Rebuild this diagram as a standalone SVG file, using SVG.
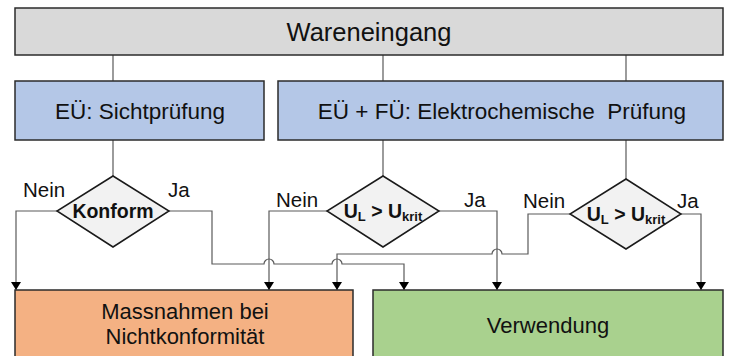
<svg xmlns="http://www.w3.org/2000/svg" width="729" height="356" viewBox="0 0 729 356">
  <style>
    .box { stroke: #2b2b2b; stroke-width: 1.5; }
    .dia { fill: #f2f2f2; stroke: #1a1a1a; stroke-width: 1.5; }
    .lbl { font-family: "Liberation Sans", Arial, sans-serif; fill: #111; text-anchor: middle; }
    .yn { font-family: "Liberation Sans", Arial, sans-serif; fill: #111; font-size: 20.5px; }
    .cond { font-family: "Liberation Sans", Arial, sans-serif; fill: #111; font-weight: bold; font-size: 19.5px; text-anchor: middle; }
    .wire { fill: none; stroke: #5a5a5a; stroke-width: 1.2; }
    .arr { fill: none; stroke: #5a5a5a; stroke-width: 1.2; marker-end: url(#head); }
  </style>
  <defs>
    <!-- arrowhead drawn along +x; orient="auto" turns it to the line direction -->
    <marker id="head" markerUnits="userSpaceOnUse" markerWidth="8" markerHeight="10" refX="8" refY="5" orient="auto" viewBox="0 0 8 10">
      <path d="M0,0 L8,5 L0,10 Z" fill="#000"/>
    </marker>
  </defs>

  <!-- connectors -->
  <g id="connectors">
    <!-- intake to test boxes -->
    <path class="wire" d="M113,55 V81 M383,55 V81 M626,55 V81"/>
    <!-- test boxes to decisions -->
    <path class="wire" d="M113,140 V176 M383,140 V176 M626,140 V179"/>
    <!-- Konform: Nein -->
    <path class="arr" d="M57,211 H16 V290"/>
    <!-- Konform: Ja (hops over two verticals) -->
    <path class="arr" d="M169,211 H212 V264 H264 A5,5 0 0 1 274,264 H332 A5,5 0 0 1 342,264 H404 V290"/>
    <!-- UL > Ukrit (middle): Nein / Ja -->
    <path class="arr" d="M327,211 H269 V290"/>
    <path class="arr" d="M439,211 H497 V290"/>
    <!-- UL > Ukrit (right): Nein (hops over one vertical) / Ja -->
    <path class="arr" d="M570,214 H528 V254 H502 A5,5 0 0 0 492,254 H337 V290"/>
    <path class="arr" d="M681,214 H701 V290"/>
  </g>

  <g id="wareneingang">
    <rect class="box" x="15" y="8" width="708" height="47" fill="#d9d9d9"/>
    <text class="lbl" x="369" y="41" font-size="25.5">Wareneingang</text>
  </g>

  <g id="sichtpruefung">
    <rect class="box" x="15" y="81" width="249" height="59" fill="#b4c7e7"/>
    <text class="lbl" x="140" y="119" font-size="22.5">EÜ: Sichtprüfung</text>
  </g>

  <g id="elektrochemische-pruefung">
    <rect class="box" x="278" y="81" width="445" height="59" fill="#b4c7e7"/>
    <text class="lbl" x="502" y="119" font-size="22.5" xml:space="preserve">EÜ + FÜ: Elektrochemische  Prüfung</text>
  </g>

  <g id="konform">
    <polygon class="dia" points="113,176 169,211 113,247 57,211"/>
    <text class="cond" x="113" y="218">Konform</text>
    <text class="yn" x="23" y="197">Nein</text>
    <text class="yn" x="168" y="197">Ja</text>
  </g>

  <g id="spannung-mitte">
    <polygon class="dia" points="383,176 439,211 383,247 327,211"/>
    <text class="cond" x="383" y="218">U<tspan font-size="13" dy="3">L</tspan><tspan dy="-3"> &gt; U</tspan><tspan font-size="13" dy="3">krit</tspan></text>
    <text class="yn" x="276" y="207">Nein</text>
    <text class="yn" x="464" y="207">Ja</text>
  </g>

  <g id="spannung-rechts">
    <polygon class="dia" points="626,179 681,214 626,249 570,214"/>
    <text class="cond" x="626" y="221">U<tspan font-size="13" dy="3">L</tspan><tspan dy="-3"> &gt; U</tspan><tspan font-size="13" dy="3">krit</tspan></text>
    <text class="yn" x="523" y="208">Nein</text>
    <text class="yn" x="677" y="208">Ja</text>
  </g>

  <g id="massnahmen">
    <rect class="box" x="15" y="290" width="338" height="70" fill="#f4b183"/>
    <text class="lbl" x="185" y="319" font-size="22">Massnahmen bei</text>
    <text class="lbl" x="185" y="344" font-size="22">Nichtkonformität</text>
  </g>

  <g id="verwendung">
    <rect class="box" x="373" y="290" width="350" height="70" fill="#a9d18e"/>
    <text class="lbl" x="548" y="333" font-size="22">Verwendung</text>
  </g>
</svg>
